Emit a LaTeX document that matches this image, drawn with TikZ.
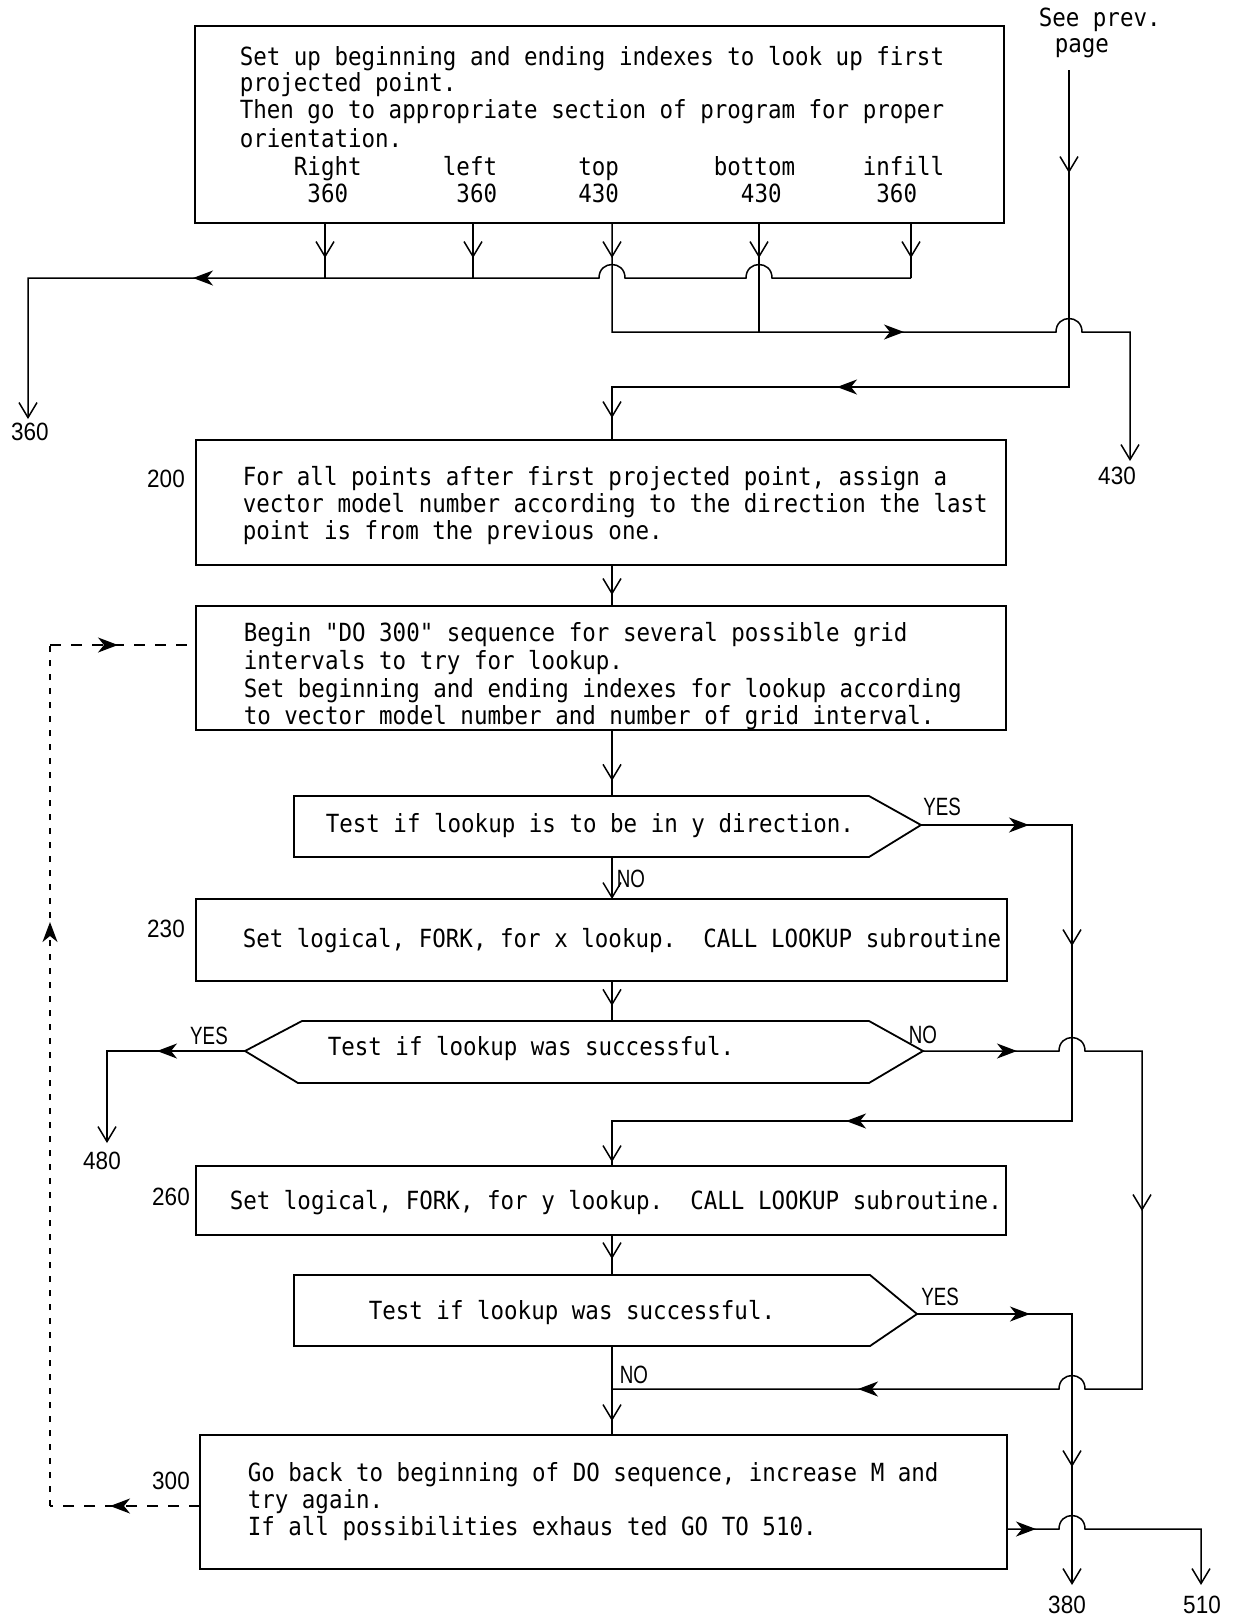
\documentclass[tikz,border=0pt]{standalone}
\usepackage{fontspec}
\usetikzlibrary{arrows.meta,decorations.markings,calc}
\newfontfamily\monof[FakeStretch=0.9]{DejaVu Sans Mono}
\newfontfamily\lblf[FakeStretch=0.9]{Liberation Sans}
\newfontfamily\ynf[FakeStretch=0.75]{Liberation Sans}
\begin{document}
\begin{tikzpicture}[x=1pt,y=-1pt,line width=1.5pt,
  vb/.tip={Straight Barb[length=15pt,width=18pt]},
  hs/.tip={Stealth[length=20pt,width=15pt,inset=6pt]},
  va/.style={postaction={decorate,decoration={markings,mark=at position #1 with {\arrow{vb}}}}},
  ha/.style={postaction={decorate,decoration={markings,mark=at position #1 with {\arrow{hs}}}}},
  box/.style={draw,line width=1.8pt,inner sep=0pt,outer sep=0pt},
  shp/.style={draw,line width=1.8pt,line join=miter},
  txt/.style={font=\monof\fontsize{25pt}{29pt}\selectfont,inner sep=0pt,anchor=base west},
  lab/.style={font=\lblf\fontsize{25pt}{30pt}\selectfont,inner sep=0pt},
  yn/.style={font=\ynf\fontsize{25pt}{30pt}\selectfont,inner sep=0pt},
  dsh/.style={dash pattern=on 11pt off 10pt},
  dshv/.style={dash pattern=on 6pt off 8pt}]
\useasboundingbox (0,0) rectangle (1238,1617);
\fill[white] (0,0) rectangle (1238,1617);

% ---------- boxes ----------
\node[box,minimum width=809pt,minimum height=197pt] (b1) at (599.5,124.5) {};
\node[box,minimum width=810pt,minimum height=125pt] (b2) at (601,502.5) {};
\node[box,minimum width=810pt,minimum height=124pt] (b3) at (601,668) {};
\node[box,minimum width=811pt,minimum height=82pt] (b4) at (601.5,940) {};
\node[box,minimum width=810pt,minimum height=69pt] (b5) at (601,1200.5) {};
\node[box,minimum width=807pt,minimum height=134pt] (b6) at (603.5,1502) {};

% ---------- decision shapes ----------
\coordinate (d1a) at (294,796); \coordinate (d1b) at (869,796);
\coordinate (d1tip) at (921,825); \coordinate (d1c) at (869,857); \coordinate (d1d) at (294,857);
\draw[shp] (d1a) -- (d1b) -- (d1tip) -- (d1c) -- (d1d) -- cycle;
\coordinate (d2tipL) at (245,1051); \coordinate (d2a) at (302,1021); \coordinate (d2b) at (869,1021);
\coordinate (d2tipR) at (923,1051); \coordinate (d2c) at (869,1083); \coordinate (d2d) at (298,1083);
\draw[shp] (d2tipL) -- (d2a) -- (d2b) -- (d2tipR) -- (d2c) -- (d2d) -- cycle;
\coordinate (d3a) at (294,1275); \coordinate (d3b) at (870,1275);
\coordinate (d3tip) at (917,1314); \coordinate (d3c) at (870,1346); \coordinate (d3d) at (294,1346);
\draw[shp] (d3a) -- (d3b) -- (d3tip) -- (d3c) -- (d3d) -- cycle;

% ---------- texts ----------
\node[txt] (t1a) at (239,65) {Set up beginning and ending indexes to look up first};
\node[txt] (t1b) at (239,91) {projected point.};
\node[txt] (t1c) at (239,118) {Then go to appropriate section of program for proper};
\node[txt] (t1d) at (239,147) {orientation.};
\node[txt] (t1e) at (239,175) {~~~~Right~~~~~~left~~~~~~top~~~~~~~bottom~~~~~infill};
\node[txt] (t1f) at (239,202) {~~~~~360~~~~~~~~360~~~~~~430~~~~~~~~~430~~~~~~~360};

\node[txt] (t2a) at (242,485) {For all points after first projected point, assign a};
\node[txt] (t2b) at (242,512) {vector model number according to the direction the last};
\node[txt] (t2c) at (242,539) {point is from the previous one.};

\node[txt] (t3a) at (243,641) {Begin "DO 300" sequence for several possible grid};
\node[txt] (t3b) at (243,669) {intervals to try for lookup.};
\node[txt] (t3c) at (243,697) {Set beginning and ending indexes for lookup according};
\node[txt] (t3d) at (243,724) {to vector model number and number of grid interval.};

\node[txt] (td1) at (325,832) {Test if lookup is to be in y direction.};
\node[txt] (t4) at (242,947) {Set logical, FORK, for x lookup.~~CALL LOOKUP subroutine};
\node[txt] (td2) at (327,1055) {Test if lookup was successful.};
\node[txt] (t5) at (229,1209) {Set logical, FORK, for y lookup.~~CALL LOOKUP subroutine.};
\node[txt] (td3) at (368,1319) {Test if lookup was successful.};
\node[txt] (t6a) at (247,1481) {Go back to beginning of DO sequence, increase M and};
\node[txt] (t6b) at (247,1508) {try again.};
\node[txt] (t6c) at (247,1535) {If all possibilities exhaus ted GO TO 510.};

\node[txt] (sp1) at (1038,26) {See prev.};
\node[txt] (sp2) at (1054,52) {page};

% ---------- labels ----------
\node[lab] (n200) at (166,479) {200};
\node[lab] (n230) at (166,929) {230};
\node[lab] (n260) at (171,1197) {260};
\node[lab] (n300) at (171,1481) {300};
\node[lab] (n360) at (30,432) {360};
\node[lab] (n430) at (1117,476) {430};
\node[lab] (n480) at (102,1161) {480};
\node[lab] (n380) at (1067,1605) {380};
\node[lab] (n510) at (1202,1605) {510};
\node[yn] (y1) at (942,807) {YES};
\node[yn] (no1) at (631,879) {NO};
\node[yn] (y2) at (209,1036) {YES};
\node[yn] (no2) at (923,1035) {NO};
\node[yn] (y3) at (940,1297) {YES};
\node[yn] (no3) at (634,1375) {NO};

% ---------- helper coordinates ----------
\coordinate (xR) at (325,0); \coordinate (xL) at (473,0); \coordinate (xM) at (612,0);
\coordinate (xB) at (759,0); \coordinate (xI) at (911,0); \coordinate (xP) at (1069,0);
\coordinate (xQ) at (1130,0); \coordinate (xY) at (1072,0); \coordinate (xN) at (1142,0);
\coordinate (x510) at (1201,0); \coordinate (xD) at (50,0); \coordinate (x480) at (107,0);
\coordinate (x360) at (28,0);
\coordinate (yA) at (0,278); \coordinate (yB) at (0,332); \coordinate (yC) at (0,387);
\coordinate (yD) at (0,1121); \coordinate (yE) at (0,1389); \coordinate (yF) at (0,1529);
\coordinate (yG) at (0,1506); \coordinate (yH) at (0,645);
\coordinate (spStart) at (1069,70);
\coordinate (e360) at (28,419); \coordinate (e430) at (1130,461);
\coordinate (e480) at (107,1143); \coordinate (e380) at (1072,1585); \coordinate (e510) at (1201,1585);
\coordinate (d1n) at (612,796); \coordinate (d1s) at (612,857);
\coordinate (d2n) at (612,1021); \coordinate (d3n) at (612,1275); \coordinate (d3s) at (612,1346);

% ---------- connectors ----------
\draw[va=35pt] (b1.south -| xR) -- (xR |- yA);
\draw[va=35pt] (b1.south -| xL) -- (xL |- yA);
\draw[va=35pt] (b1.south -| xI) -- (xI |- yA);
\draw[va=35pt] (b1.south -| xB) -- (xB |- yB);
\draw[-{vb},ha=-306pt] (xI |- yA) -- (772,278) .. controls (772,260) and (746,260) .. (746,278)
   -- (625,278) .. controls (625,260) and (599,260) .. (599,278) -- (x360 |- yA) -- (e360);
\draw[-{vb},va=35pt,ha=401pt] (b1.south -| xM) -- (xM |- yB) -- (1056,332)
   .. controls (1056,314) and (1082,314) .. (1082,332) -- (xQ |- yB) -- (e430);
\draw[va=103pt,ha=549pt,va=-22pt] (spStart) -- (xP |- yC) -- (xM |- yC) -- (b2.north -| xM);
\draw[va=0.73] (b2.south -| xM) -- (b3.north -| xM);
\draw[va=0.77] (b3.south -| xM) -- (d1n);
\draw[-{vb}] (d1s) -- (b4.north -| xM);
\draw[va=0.62] (b4.south -| xM) -- (d2n);
\draw[ha=108pt,va=272pt,ha=673pt,va=-4pt] (d1tip) -- (xY |- d1tip) -- (xY |- yD) -- (xM |- yD) -- (b5.north -| xM);
\draw[ha=88pt,-{vb}] (d2tipL) -- (x480 |- d2tipL) -- (e480);
\draw[ha=94pt,va=395pt,ha=-246pt] (d2tipR) -- (1059,1051) .. controls (1059,1033) and (1085,1033) .. (1085,1051)
   -- (xN |- d2tipR) -- (xN |- yE) -- (1085,1389) .. controls (1085,1371) and (1059,1371) .. (1059,1389) -- (xM |- yE);
\draw[va=0.6] (b5.south -| xM) -- (d3n);
\draw[va=-14pt] (d3s) -- (b6.north -| xM);
\draw[ha=113pt,va=308pt,-{vb}] (d3tip) -- (xY |- d3tip) -- (e380);
\draw[ha=29pt,-{vb}] (b6.east |- yF) -- (1059,1529) .. controls (1059,1511) and (1085,1511) .. (1085,1529)
   -- (x510 |- yF) -- (e510);
% dashed loop
\draw[dsh,ha=90pt] (b6.west |- yG) -- (xD |- yG);
\draw[dshv,ha=584pt] (xD |- yG) -- (xD |- yH);
\draw[dsh,ha=-78pt] (xD |- yH) -- (b3.west |- yH);
\end{tikzpicture}
\end{document}
